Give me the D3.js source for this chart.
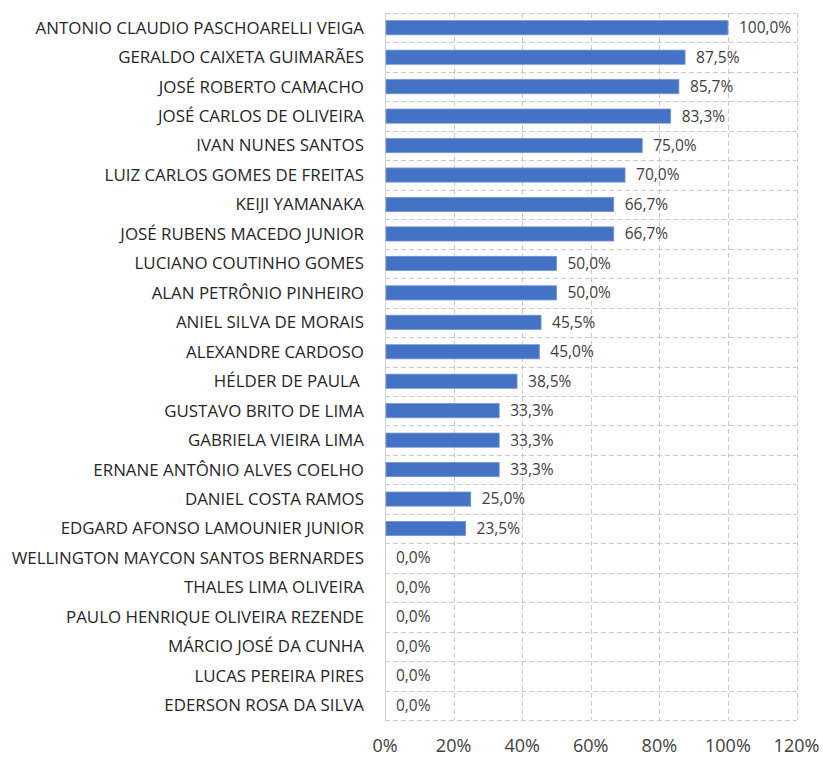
<!DOCTYPE html>
<html><head><meta charset="utf-8">
<script src="https://cdn.jsdelivr.net/npm/d3@7"></script>
<style>
body{margin:0;background:#fff;}
text{white-space:pre;}
</style></head>
<body><svg id="c" width="823" height="758"></svg>
<script>
const categories = [
"ANTONIO CLAUDIO PASCHOARELLI VEIGA",
"GERALDO CAIXETA GUIMARÃES",
"JOSÉ ROBERTO CAMACHO",
"JOSÉ CARLOS DE OLIVEIRA",
"IVAN NUNES SANTOS",
"LUIZ CARLOS GOMES DE FREITAS",
"KEIJI YAMANAKA",
"JOSÉ RUBENS MACEDO JUNIOR",
"LUCIANO COUTINHO GOMES",
"ALAN PETRÔNIO PINHEIRO",
"ANIEL SILVA DE MORAIS",
"ALEXANDRE CARDOSO",
"HÉLDER DE PAULA ",
"GUSTAVO BRITO DE LIMA",
"GABRIELA VIEIRA LIMA",
"ERNANE ANTÔNIO ALVES COELHO",
"DANIEL COSTA RAMOS",
"EDGARD AFONSO LAMOUNIER JUNIOR",
"WELLINGTON MAYCON SANTOS BERNARDES",
"THALES LIMA OLIVEIRA",
"PAULO HENRIQUE OLIVEIRA REZENDE",
"MÁRCIO JOSÉ DA CUNHA",
"LUCAS PEREIRA PIRES",
"EDERSON ROSA DA SILVA"
];
const values = [100.0,87.5,85.7,83.3,75.0,70.0,66.7,66.7,50.0,50.0,45.5,45.0,38.5,33.3,33.3,33.3,25.0,23.5,0,0,0,0,0,0];
const xTicks = [0,20,40,60,80,100,120];
const tickLabels = ["0%","20%","40%","60%","80%","100%","120%"];

const svg = d3.select("#c");
const m = {left:385, right:796.5, top:13, bottom:720};
const x = d3.scaleLinear().domain([0,120]).range([m.left,m.right]);
const y = d3.scaleBand().domain(categories).range([m.top,m.bottom]).paddingInner(0.52).paddingOuter(0.26);
const font = "'Open Sans', sans-serif";

// horizontal dashed grid at band boundaries
const bounds = d3.range(categories.length+1).map(i => m.top + i*(m.bottom-m.top)/categories.length);
svg.append("g").selectAll("line").data(bounds).join("line")
  .attr("x1", m.left).attr("x2", m.right)
  .attr("y1", d=>Math.round(d)+0.5).attr("y2", d=>Math.round(d)+0.5)
  .attr("stroke","#c8c8c8").attr("stroke-width",1).attr("stroke-dasharray","5,3");
// vertical dashed grid
svg.append("g").selectAll("line").data(xTicks.slice(1)).join("line")
  .attr("x1", d=>Math.round(x(d))+0.5).attr("x2", d=>Math.round(x(d))+0.5)
  .attr("y1", m.top).attr("y2", m.bottom)
  .attr("stroke","#c8c8c8").attr("stroke-width",1).attr("stroke-dasharray","5,3");
// left axis line
svg.append("line").attr("x1",m.left+0.5).attr("x2",m.left+0.5).attr("y1",m.top).attr("y2",m.bottom)
  .attr("stroke","#cfcfcf").attr("stroke-width",1);

// bars
svg.append("g").selectAll("rect").data(values).join("rect")
  .attr("x", x(0)+1)
  .attr("y", (d,i)=>y(categories[i]))
  .attr("width", d=>Math.max(0, x(d)-x(0)-1))
  .attr("height", y.bandwidth())
  .attr("fill","#4472c4")
  .attr("stroke", d=> d>0 ? "#6f93d6" : "none").attr("stroke-width",0.8);

// value labels
svg.append("g").selectAll("text").data(values).join("text")
  .attr("x", d=>x(d)+11)
  .attr("y", (d,i)=>y(categories[i])+y.bandwidth()/2)
  .attr("dy","0.35em")
  .attr("font-family",font).attr("font-size","15.5px").attr("fill","#404040")
  .text(d=>d.toFixed(1).replace(".",",")+"%");

// category labels
svg.append("g").selectAll("text").data(categories).join("text")
  .attr("x", 364)
  .attr("y", d=>y(d)+y.bandwidth()/2)
  .attr("dy","0.35em").attr("text-anchor","end")
  .attr("font-family",font).attr("font-size","16.9px").attr("fill","#262626")
  .text(d=>d);

// x tick labels
svg.append("g").selectAll("text").data(xTicks).join("text")
  .attr("x", d=>x(d))
  .attr("y", 745.5).attr("dy","0.35em").attr("text-anchor","middle")
  .attr("font-family",font).attr("font-size","18px").attr("fill","#404040")
  .text((d,i)=>tickLabels[i]);
</script></body></html>
